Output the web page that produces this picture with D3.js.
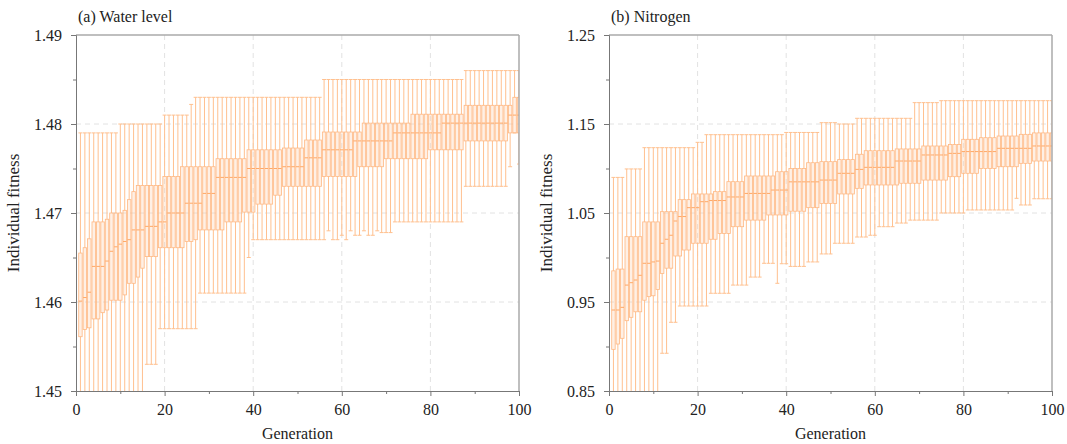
<!DOCTYPE html>
<meta charset="utf-8" />
<script src="https://d3js.org/d3.v7.min.js"></script>
<style>
  body { margin: 0; background: #fff; }
  text { font-family: "Liberation Serif", "Times New Roman", serif; fill: #222; }
</style>
<div id="chart"></div>
<script>
  // generations shown on the x axis
  const generations = d3.range(1, 101);

  // (a) Water level: per-generation min / q1 / median / q3 / max
  const waterMax = [
    1.479, 1.479, 1.479, 1.479, 1.479, 1.479, 1.479, 1.479, 1.479, 1.480,
    1.480, 1.480, 1.480, 1.480, 1.480, 1.480, 1.480, 1.480, 1.480, 1.481,
    1.481, 1.481, 1.481, 1.481, 1.481, 1.4822, 1.483, 1.483, 1.483, 1.483,
    1.483, 1.483, 1.483, 1.483, 1.483, 1.483, 1.483, 1.483, 1.483, 1.483,
    1.483, 1.483, 1.483, 1.483, 1.483, 1.483, 1.483, 1.483, 1.483, 1.483,
    1.483, 1.483, 1.483, 1.483, 1.483, 1.485, 1.485, 1.485, 1.485, 1.485,
    1.485, 1.485, 1.485, 1.485, 1.485, 1.485, 1.485, 1.485, 1.485, 1.485,
    1.485, 1.485, 1.485, 1.485, 1.485, 1.485, 1.485, 1.485, 1.485, 1.485,
    1.485, 1.485, 1.485, 1.485, 1.485, 1.485, 1.485, 1.486, 1.486, 1.486,
    1.486, 1.486, 1.486, 1.486, 1.486, 1.486, 1.486, 1.486, 1.486, 1.486
  ];
  const waterQ3 = [
    1.4655, 1.4661, 1.4671, 1.469, 1.469, 1.469, 1.4693, 1.470, 1.470, 1.470,
    1.4703, 1.4715, 1.4724, 1.4731, 1.4731, 1.4731, 1.4731, 1.4731, 1.4731, 1.4741,
    1.4741, 1.4741, 1.4741, 1.4752, 1.4752, 1.4752, 1.4752, 1.4752, 1.4752, 1.4752,
    1.4752, 1.4761, 1.4761, 1.4761, 1.4761, 1.4761, 1.4761, 1.4761, 1.4771, 1.4771,
    1.4771, 1.4771, 1.4771, 1.4771, 1.4771, 1.4771, 1.4773, 1.4773, 1.4773, 1.4773,
    1.4773, 1.4782, 1.4782, 1.4782, 1.4782, 1.4791, 1.4791, 1.4791, 1.4791, 1.4791,
    1.4791, 1.4791, 1.4791, 1.4791, 1.4801, 1.4801, 1.4801, 1.4801, 1.4801, 1.4801,
    1.4801, 1.4801, 1.4801, 1.4801, 1.4801, 1.4811, 1.4811, 1.4811, 1.4811, 1.4811,
    1.4811, 1.4811, 1.4811, 1.4811, 1.4811, 1.4811, 1.4811, 1.4821, 1.4821, 1.4821,
    1.4821, 1.4821, 1.4821, 1.4821, 1.4821, 1.4821, 1.4821, 1.4821, 1.483, 1.483
  ];
  const waterMedian = [
    1.4601, 1.4605, 1.4611, 1.464, 1.464, 1.464, 1.4646, 1.4657, 1.4662, 1.4665,
    1.4668, 1.467, 1.4681, 1.4681, 1.4681, 1.4685, 1.4685, 1.4685, 1.469, 1.469,
    1.470, 1.470, 1.470, 1.470, 1.4711, 1.4711, 1.4711, 1.4711, 1.4722, 1.4722,
    1.4722, 1.474, 1.474, 1.474, 1.474, 1.474, 1.474, 1.474, 1.475, 1.475,
    1.475, 1.475, 1.475, 1.475, 1.475, 1.475, 1.4752, 1.4752, 1.4752, 1.4752,
    1.4752, 1.4762, 1.4762, 1.4762, 1.4762, 1.4771, 1.4771, 1.4771, 1.4771, 1.4771,
    1.4771, 1.4771, 1.4781, 1.4781, 1.4781, 1.4781, 1.4781, 1.4781, 1.4781, 1.4781,
    1.4781, 1.479, 1.479, 1.479, 1.479, 1.479, 1.479, 1.479, 1.479, 1.479,
    1.479, 1.479, 1.4801, 1.4801, 1.4801, 1.4801, 1.4801, 1.4801, 1.4801, 1.4801,
    1.4801, 1.4801, 1.4801, 1.4801, 1.4801, 1.4801, 1.4801, 1.481, 1.481, 1.481
  ];
  const waterQ1 = [
    1.4561, 1.4569, 1.4571, 1.4581, 1.4581, 1.4588, 1.4591, 1.4602, 1.4602, 1.4602,
    1.4608, 1.4621, 1.4621, 1.4628, 1.4638, 1.4651, 1.4651, 1.4651, 1.4661, 1.4661,
    1.4661, 1.4661, 1.4661, 1.4661, 1.4668, 1.4668, 1.467, 1.4681, 1.4681, 1.4681,
    1.4681, 1.4681, 1.4681, 1.469, 1.469, 1.469, 1.469, 1.4701, 1.4701, 1.4701,
    1.471, 1.471, 1.471, 1.471, 1.472, 1.472, 1.473, 1.473, 1.473, 1.473,
    1.473, 1.473, 1.473, 1.473, 1.473, 1.4741, 1.4741, 1.4741, 1.4741, 1.4741,
    1.4741, 1.4741, 1.4741, 1.4752, 1.4752, 1.4752, 1.4752, 1.4752, 1.4752, 1.4761,
    1.4761, 1.4761, 1.4761, 1.4761, 1.4761, 1.4761, 1.4761, 1.4761, 1.4761, 1.4771,
    1.4771, 1.4771, 1.4771, 1.4771, 1.4771, 1.4771, 1.4771, 1.4781, 1.4781, 1.4781,
    1.4781, 1.4781, 1.4781, 1.4781, 1.4781, 1.4781, 1.4781, 1.479, 1.479, 1.479
  ];
  const waterMin = [
    1.449, 1.449, 1.449, 1.449, 1.449, 1.449, 1.449, 1.449, 1.449, 1.449,
    1.449, 1.449, 1.449, 1.449, 1.449, 1.453, 1.453, 1.453, 1.457, 1.457,
    1.457, 1.457, 1.457, 1.457, 1.457, 1.457, 1.457, 1.461, 1.461, 1.461,
    1.461, 1.461, 1.461, 1.461, 1.461, 1.461, 1.461, 1.461, 1.465, 1.467,
    1.467, 1.467, 1.467, 1.467, 1.467, 1.467, 1.467, 1.467, 1.467, 1.467,
    1.467, 1.467, 1.467, 1.467, 1.467, 1.467, 1.468, 1.467, 1.467, 1.4675,
    1.467, 1.468, 1.4675, 1.4675, 1.468, 1.4675, 1.4675, 1.468, 1.4678, 1.4678,
    1.4678, 1.469, 1.469, 1.469, 1.469, 1.469, 1.469, 1.469, 1.469, 1.469,
    1.469, 1.469, 1.469, 1.469, 1.469, 1.469, 1.469, 1.473, 1.473, 1.473,
    1.473, 1.473, 1.473, 1.473, 1.473, 1.473, 1.473, 1.4752, 1.479, 1.4755
  ];

  // (b) Nitrogen: per-generation min / q1 / median / q3 / max
  const nitroMax = [
    1.090, 1.090, 1.090, 1.0995, 1.0995, 1.0995, 1.0995, 1.1234, 1.1234, 1.1234,
    1.1234, 1.1234, 1.1234, 1.1234, 1.1234, 1.1234, 1.1234, 1.1234, 1.1234, 1.1294,
    1.1294, 1.138, 1.138, 1.138, 1.138, 1.138, 1.138, 1.138, 1.138, 1.138,
    1.138, 1.138, 1.138, 1.138, 1.138, 1.138, 1.138, 1.138, 1.138, 1.1405,
    1.1405, 1.1405, 1.1405, 1.1405, 1.1405, 1.1405, 1.1405, 1.1515, 1.1515, 1.1515,
    1.1515, 1.150, 1.150, 1.150, 1.150, 1.1564, 1.1564, 1.1564, 1.1564, 1.1564,
    1.1564, 1.1564, 1.1564, 1.1564, 1.1564, 1.1564, 1.1564, 1.1564, 1.174, 1.174,
    1.174, 1.174, 1.174, 1.174, 1.1762, 1.1762, 1.1762, 1.1762, 1.1762, 1.1762,
    1.1762, 1.1762, 1.1762, 1.1762, 1.1762, 1.1762, 1.1762, 1.1762, 1.1762, 1.1762,
    1.1762, 1.1762, 1.1762, 1.1762, 1.1762, 1.1762, 1.1762, 1.1762, 1.1762, 1.1762
  ];
  const nitroQ3 = [
    0.985, 0.987, 0.987, 1.0234, 1.0234, 1.0234, 1.0234, 1.040, 1.040, 1.040,
    1.040, 1.0515, 1.0515, 1.0515, 1.0515, 1.065, 1.065, 1.065, 1.0714, 1.0714,
    1.0714, 1.0714, 1.0714, 1.074, 1.074, 1.074, 1.0852, 1.0852, 1.0852, 1.0852,
    1.0916, 1.0916, 1.0916, 1.0916, 1.0916, 1.0916, 1.0916, 1.0964, 1.0964, 1.0964,
    1.100, 1.100, 1.100, 1.100, 1.1065, 1.1065, 1.1065, 1.1077, 1.1077, 1.1077,
    1.1077, 1.110, 1.110, 1.110, 1.110, 1.116, 1.116, 1.120, 1.120, 1.120,
    1.120, 1.120, 1.120, 1.120, 1.122, 1.122, 1.122, 1.122, 1.122, 1.122,
    1.1253, 1.1253, 1.1253, 1.1253, 1.1253, 1.1253, 1.127, 1.127, 1.127, 1.1328,
    1.1328, 1.1328, 1.1328, 1.1346, 1.1346, 1.1346, 1.1346, 1.1365, 1.1365, 1.1365,
    1.1365, 1.1365, 1.1384, 1.1384, 1.1384, 1.140, 1.140, 1.140, 1.140, 1.140
  ];
  const nitroMedian = [
    0.941, 0.941, 0.944, 0.969, 0.9717, 0.9747, 0.980, 0.9935, 0.9935, 0.995,
    0.996, 1.016, 1.0205, 1.025, 1.041, 1.046, 1.046, 1.056, 1.056, 1.056,
    1.0627, 1.0627, 1.064, 1.064, 1.064, 1.064, 1.068, 1.068, 1.068, 1.068,
    1.072, 1.072, 1.072, 1.072, 1.072, 1.072, 1.0758, 1.0758, 1.0758, 1.0758,
    1.085, 1.085, 1.085, 1.085, 1.085, 1.085, 1.085, 1.087, 1.087, 1.087,
    1.087, 1.0946, 1.0946, 1.0946, 1.0946, 1.099, 1.099, 1.1013, 1.1013, 1.1013,
    1.1013, 1.1013, 1.1013, 1.1013, 1.1084, 1.1084, 1.1084, 1.1084, 1.1084, 1.1084,
    1.1152, 1.1152, 1.1152, 1.1152, 1.1152, 1.1152, 1.117, 1.117, 1.117, 1.119,
    1.119, 1.119, 1.119, 1.119, 1.119, 1.119, 1.119, 1.1227, 1.1227, 1.1227,
    1.1227, 1.1227, 1.1227, 1.1227, 1.1227, 1.1253, 1.1253, 1.1253, 1.1253, 1.1253
  ];
  const nitroQ1 = [
    0.8968, 0.9028, 0.9092, 0.929, 0.9328, 0.939, 0.939, 0.952, 0.956, 0.957,
    0.964, 0.982, 0.988, 0.988, 1.0017, 1.0017, 1.0084, 1.0084, 1.016, 1.016,
    1.016, 1.016, 1.0205, 1.0205, 1.027, 1.027, 1.027, 1.0346, 1.0346, 1.0346,
    1.042, 1.042, 1.042, 1.042, 1.042, 1.0478, 1.0478, 1.0478, 1.0478, 1.0478,
    1.052, 1.052, 1.052, 1.052, 1.056, 1.056, 1.056, 1.0608, 1.0608, 1.0608,
    1.0608, 1.0714, 1.0714, 1.0714, 1.0714, 1.0777, 1.0777, 1.0815, 1.0815, 1.0815,
    1.0815, 1.0815, 1.0815, 1.0815, 1.0815, 1.0834, 1.0834, 1.0834, 1.0834, 1.0834,
    1.087, 1.087, 1.087, 1.087, 1.087, 1.087, 1.0908, 1.0908, 1.0908, 1.0946,
    1.0946, 1.0946, 1.0946, 1.100, 1.100, 1.100, 1.100, 1.102, 1.102, 1.102,
    1.102, 1.102, 1.1058, 1.1058, 1.1058, 1.1084, 1.1084, 1.1084, 1.1084, 1.1084
  ];
  const nitroMin = [
    0.84, 0.84, 0.84, 0.84, 0.84, 0.84, 0.84, 0.84, 0.84, 0.84,
    0.84, 0.8924, 0.8924, 0.9272, 0.9272, 0.9455, 0.9455, 0.9455, 0.9455, 0.9455,
    0.9455, 0.9455, 0.9598, 0.9598, 0.9598, 0.9598, 0.9598, 0.969, 0.969, 0.969,
    0.969, 0.978, 0.978, 0.978, 0.9935, 0.9935, 0.9935, 0.971, 0.993, 0.993,
    0.990, 0.990, 0.990, 0.990, 0.995, 0.995, 0.995, 1.004, 1.004, 1.004,
    1.016, 1.016, 1.016, 1.016, 1.016, 1.023, 1.023, 1.023, 1.025, 1.025,
    1.0346, 1.0346, 1.0346, 1.0346, 1.0387, 1.0387, 1.0387, 1.042, 1.042, 1.042,
    1.042, 1.042, 1.042, 1.042, 1.050, 1.050, 1.050, 1.050, 1.050, 1.050,
    1.0534, 1.0534, 1.0534, 1.0534, 1.0534, 1.0534, 1.0534, 1.0534, 1.0534, 1.0534,
    1.0534, 1.0665, 1.059, 1.059, 1.059, 1.066, 1.066, 1.066, 1.066, 1.066
  ];

  // axis ticks
  const xTicks = [0, 20, 40, 60, 80, 100];
  const xMinor = [10, 30, 50, 70, 90];
  const waterTicks = [1.45, 1.46, 1.47, 1.48, 1.49];
  const waterMinor = [1.455, 1.465, 1.475, 1.485];
  const nitroTicks = [0.85, 0.95, 1.05, 1.15, 1.25];
  const nitroMinor = [0.90, 1.00, 1.10, 1.20];

  const W = 1067, H = 444;
  const svg = d3.select("#chart").append("svg")
    .attr("width", W).attr("height", H);

  const panels = [
    {
      id: "a", title: "(a) Water level", left: 76, right: 519,
      domain: [1.45, 1.49], ticks: waterTicks, minor: waterMinor, fmt: d3.format(".2f"),
      min: waterMin, q1: waterQ1, med: waterMedian, q3: waterQ3, max: waterMax
    },
    {
      id: "b", title: "(b) Nitrogen", left: 609, right: 1052,
      domain: [0.85, 1.25], ticks: nitroTicks, minor: nitroMinor, fmt: d3.format(".2f"),
      min: nitroMin, q1: nitroQ1, med: nitroMedian, q3: nitroQ3, max: nitroMax
    }
  ];

  const plotTop = 35, plotBottom = 391;
  const lineCol = "#ffc08f", boxStroke = "#ffb883", boxFill = "rgba(255,205,170,0.3)";

  panels.forEach(function (p) {
    const x = d3.scaleLinear().domain([0, 100]).range([p.left, p.right]);
    const y = d3.scaleLinear().domain(p.domain).range([plotBottom, plotTop]);
    const g = svg.append("g");

    // dashed grid
    g.append("g").selectAll("line").data(xTicks.slice(1, -1)).join("line")
      .attr("x1", d => x(d)).attr("x2", d => x(d))
      .attr("y1", plotTop).attr("y2", plotBottom)
      .attr("stroke", "#e2e2e2").attr("stroke-dasharray", "5,4");
    g.append("g").selectAll("line").data(p.ticks.slice(1, -1)).join("line")
      .attr("x1", p.left).attr("x2", p.right)
      .attr("y1", d => y(d)).attr("y2", d => y(d))
      .attr("stroke", "#e2e2e2").attr("stroke-dasharray", "5,4");

    // clip
    svg.append("clipPath").attr("id", "clip" + p.id).append("rect")
      .attr("x", p.left).attr("y", plotTop).attr("width", p.right - p.left).attr("height", plotBottom - plotTop);

    const rows = generations.map((gen, i) => ({
      gen: gen, min: p.min[i], q1: p.q1[i], med: p.med[i], q3: p.q3[i], max: p.max[i]
    }));
    const step = x(1) - x(0);
    const bw = step * 0.78, cw = step * 0.9;

    const marks = g.append("g").attr("clip-path", "url(#clip" + p.id + ")");
    const item = marks.selectAll("g").data(rows).join("g");
    // whiskers: max down to q3, q1 down to min
    item.append("line")
      .attr("x1", d => x(d.gen)).attr("x2", d => x(d.gen))
      .attr("y1", d => y(d.q3)).attr("y2", d => y(d.max))
      .attr("stroke", lineCol).attr("stroke-width", 1);
    item.append("line")
      .attr("x1", d => x(d.gen)).attr("x2", d => x(d.gen))
      .attr("y1", d => y(d.min)).attr("y2", d => y(d.q1))
      .attr("stroke", lineCol).attr("stroke-width", 1);
    item.append("line")
      .attr("x1", d => x(d.gen) - cw / 2).attr("x2", d => x(d.gen) + cw / 2)
      .attr("y1", d => y(d.max)).attr("y2", d => y(d.max))
      .attr("stroke", lineCol).attr("stroke-width", 1);
    item.append("line")
      .attr("x1", d => x(d.gen) - cw / 2).attr("x2", d => x(d.gen) + cw / 2)
      .attr("y1", d => y(d.min)).attr("y2", d => y(d.min))
      .attr("stroke", lineCol).attr("stroke-width", 1);
    item.append("rect")
      .attr("x", d => x(d.gen) - bw / 2).attr("width", bw)
      .attr("y", d => y(d.q3)).attr("height", d => y(d.q1) - y(d.q3))
      .attr("fill", boxFill).attr("stroke", boxStroke).attr("stroke-width", 0.8);
    item.append("line")
      .attr("x1", d => x(d.gen) - bw / 2).attr("x2", d => x(d.gen) + bw / 2)
      .attr("y1", d => y(d.med)).attr("y2", d => y(d.med))
      .attr("stroke", "#ffa866").attr("stroke-width", 1);

    // frame top / right
    g.append("line").attr("x1", p.left).attr("x2", p.right).attr("y1", plotTop).attr("y2", plotTop)
      .attr("stroke", "#aaa").attr("stroke-width", 1.5);
    g.append("line").attr("x1", p.right).attr("x2", p.right).attr("y1", plotTop).attr("y2", plotBottom)
      .attr("stroke", "#aaa").attr("stroke-width", 1.5);

    // axes
    g.append("g").attr("transform", `translate(${p.left},0)`)
      .call(d3.axisLeft(y).tickValues(p.ticks).tickFormat(p.fmt).tickSize(5).tickPadding(9));
    g.append("g").attr("transform", `translate(${p.left},0)`)
      .call(d3.axisLeft(y).tickValues(p.minor).tickFormat("").tickSize(3))
      .select(".domain").remove();
    g.append("g").attr("transform", `translate(0,${plotBottom})`)
      .call(d3.axisBottom(x).tickValues(xTicks).tickSize(5).tickPadding(8));
    g.append("g").attr("transform", `translate(0,${plotBottom})`)
      .call(d3.axisBottom(x).tickValues(xMinor).tickFormat("").tickSize(3))
      .select(".domain").remove();

    g.selectAll(".domain").attr("stroke", "#777");
    g.selectAll(".tick line").attr("stroke", "#777");
    g.selectAll(".tick text")
      .style("font-family", "'Liberation Serif', serif")
      .style("font-size", "16px").attr("fill", "#222");

    // titles
    g.append("text").attr("x", p.left + 2).attr("y", 22)
      .style("font-size", "16px").text(p.title);
    g.append("text").attr("x", (p.left + p.right) / 2).attr("y", 439)
      .attr("text-anchor", "middle").style("font-size", "16px").text("Generation");
    g.append("text")
      .attr("transform", `translate(${p.left - 57},${(plotTop + plotBottom) / 2}) rotate(-90)`)
      .attr("text-anchor", "middle").style("font-size", "17px").text("Individual fitness");
  });
</script>
